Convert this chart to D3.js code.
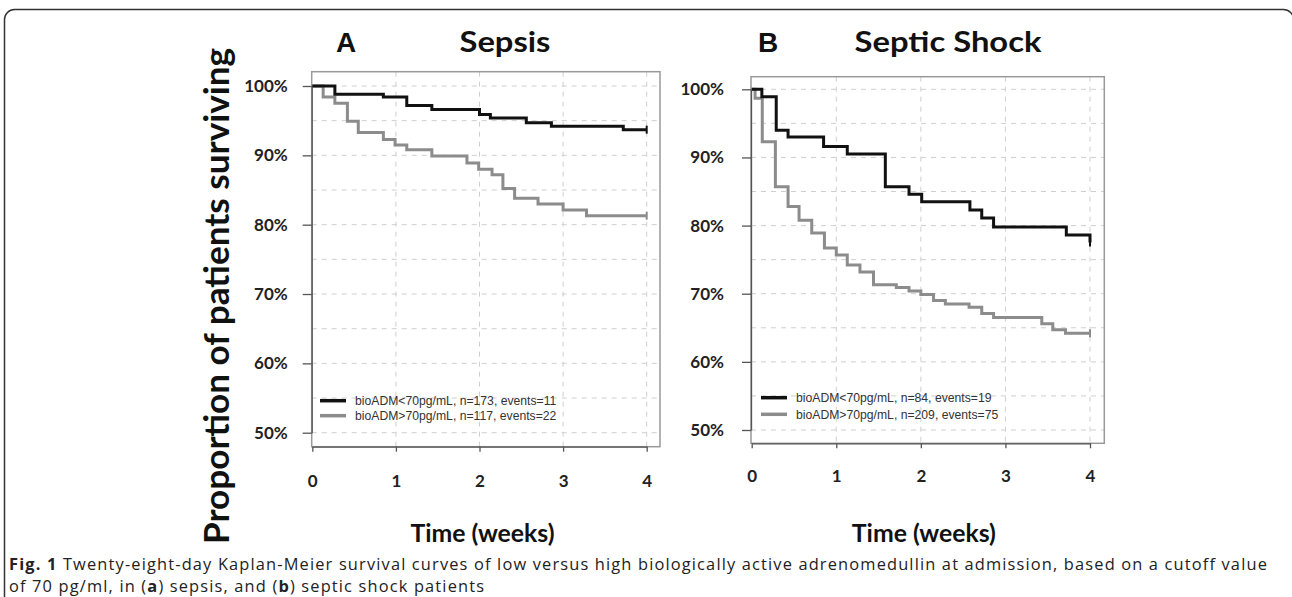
<!DOCTYPE html>
<html>
<head>
<meta charset="utf-8">
<script src="https://cdn.jsdelivr.net/npm/d3@7/dist/d3.min.js"></script>
<style>
body { margin: 0; background: #fff; }
svg { display: block; }
</style>
</head>
<body>
<svg id="fig"></svg>
<script>
var fig_width = 1292;
var fig_height = 597;

// axis ticks
var weekTicks = [0, 1, 2, 3, 4];
var pctTicks = [50, 60, 70, 80, 90, 100];
var gridPct = [50, 55, 60, 65, 70, 75, 80, 85, 90, 95, 100];
var gridWeeks = [1, 2, 3, 4];

// panel A - sepsis (weeks, % surviving)
var sepsisLowT  = [0, 0.27, 0.85, 1.13, 1.43, 2.0, 2.13, 2.56, 2.86, 3.72, 4.0];
var sepsisLowS  = [100, 98.8, 98.4, 97.2, 96.6, 95.9, 95.4, 94.7, 94.2, 93.7, 93.7];
var sepsisHighT = [0, 0.13, 0.27, 0.42, 0.55, 0.85, 0.99, 1.13, 1.43, 1.85, 1.99, 2.15, 2.28, 2.42, 2.70, 3.00, 3.28, 4.0];
var sepsisHighS = [100, 98.4, 97.5, 94.9, 93.3, 92.3, 91.5, 90.8, 89.9, 88.9, 88.0, 87.2, 85.2, 83.8, 83.0, 82.1, 81.3, 81.3];

// panel B - septic shock
var shockLowT  = [0, 0.12, 0.29, 0.43, 0.85, 1.13, 1.58, 1.86, 2.01, 2.58, 2.72, 2.86, 3.72, 4.0];
var shockLowS  = [100, 98.9, 94.0, 93.0, 91.6, 90.5, 85.7, 84.6, 83.5, 82.3, 81.1, 79.8, 78.6, 77.5];
var shockHighT = [0, 0.04, 0.125, 0.28, 0.43, 0.56, 0.71, 0.86, 1.0, 1.13, 1.28, 1.44, 1.71, 1.86, 2.0, 2.15, 2.29, 2.57, 2.72, 2.86, 3.43, 3.56, 3.71, 4.0];
var shockHighS = [100, 98.7, 92.3, 85.7, 82.8, 80.8, 78.9, 76.7, 75.7, 74.2, 73.2, 71.3, 70.9, 70.4, 69.9, 69.0, 68.5, 68.0, 67.1, 66.5, 65.6, 64.7, 64.2, 64.2];

var legendA = ["bioADM<70pg/mL, n=173, events=11", "bioADM>70pg/mL, n=117, events=22"];
var legendB = ["bioADM<70pg/mL, n=84, events=19", "bioADM>70pg/mL, n=209, events=75"];

var lowColour = "#111";
var highColour = "#8c8c8c";

var svg = d3.select("#fig")
	.attr("width", fig_width)
	.attr("height", fig_height);

// outer rounded frame
svg.append("rect")
	.attr("x", 4.5).attr("y", 9.5)
	.attr("width", 1289).attr("height", 640)
	.attr("rx", 10)
	.attr("fill", "none")
	.attr("stroke", "#333")
	.attr("stroke-width", 1.5);

function toPoints(ts, ss){
	return ts.map(function(t, i){ return [t, ss[i]]; });
}

function drawPanel(p){
	var g = svg.append("g");

	var x = d3.scaleLinear().domain([0, 4]).range([p.x0, p.x4]);
	var y = d3.scaleLinear().domain([50, 100]).range([p.y50, p.y100]);

	// dashed grid
	g.append("g").selectAll("line")
		.data(gridPct).enter().append("line")
		.attr("x1", p.boxL).attr("x2", p.boxR)
		.attr("y1", function(d){ return y(d); })
		.attr("y2", function(d){ return y(d); })
		.attr("stroke", "#cfcfcf").attr("stroke-dasharray", "5,5");
	g.append("g").selectAll("line")
		.data(gridWeeks).enter().append("line")
		.attr("x1", function(d){ return x(d); })
		.attr("x2", function(d){ return x(d); })
		.attr("y1", p.boxT).attr("y2", p.boxB)
		.attr("stroke", "#cfcfcf").attr("stroke-dasharray", "5,5");

	// plot box
	g.append("rect")
		.attr("x", p.boxL).attr("y", p.boxT)
		.attr("width", p.boxR - p.boxL).attr("height", p.boxB - p.boxT)
		.attr("fill", "none").attr("stroke", "#999").attr("stroke-width", 1.5);

	// axes
	var yAxis = d3.axisLeft(y).tickValues(pctTicks).tickSize(9).tickSizeOuter(0)
		.tickPadding(p.yPad).tickFormat(function(d){ return d + "%"; });
	var ya = g.append("g").attr("transform", "translate(" + p.boxL + ",0)").call(yAxis);

	var xAxis = d3.axisBottom(x).tickValues(weekTicks).tickSize(5).tickSizeOuter(0)
		.tickPadding(p.xPad).tickFormat(d3.format("d"));
	var xa = g.append("g").attr("transform", "translate(0," + p.boxB + ")").call(xAxis);

	[ya, xa].forEach(function(a){
		a.select(".domain").attr("stroke", "#555").attr("stroke-width", 1.3);
		a.selectAll(".tick line").attr("stroke", "#555").attr("stroke-width", 1.3);
		a.selectAll(".tick text")
			.attr("fill", "#222")
			.style("font-family", "Lato, 'Open Sans', sans-serif")
			.style("font-weight", 700)
			.style("font-size", "17px");
	});

	// survival curves
	var line = d3.line()
		.x(function(d){ return x(d[0]); })
		.y(function(d){ return y(d[1]); })
		.curve(d3.curveStepAfter);

	var curves = [
		{pts: toPoints(p.highT, p.highS), colour: highColour},
		{pts: toPoints(p.lowT, p.lowS), colour: lowColour}
	];
	curves.forEach(function(c){
		g.append("path")
			.attr("d", line(c.pts))
			.attr("fill", "none")
			.attr("stroke", c.colour)
			.attr("stroke-width", 3);
		// censor mark at end
		var last = c.pts[c.pts.length - 1];
		g.append("line")
			.attr("x1", x(last[0])).attr("x2", x(last[0]))
			.attr("y1", y(last[1]) - 4).attr("y2", y(last[1]) + 4)
			.attr("stroke", c.colour).attr("stroke-width", 2);
	});

	// legend
	var lg = g.append("g").selectAll("g")
		.data(p.legend).enter().append("g")
		.attr("transform", function(d, i){ return "translate(0," + p.legY[i] + ")"; });
	lg.append("line")
		.attr("x1", p.legX).attr("x2", p.legX + 26)
		.attr("stroke", function(d, i){ return i == 0 ? lowColour : highColour; })
		.attr("stroke-width", 3.5);
	lg.append("text")
		.attr("x", p.legX + 35).attr("dy", "0.35em")
		.attr("fill", "#333")
		.style("font-family", "'Liberation Sans', Arial, sans-serif")
		.style("font-size", "12.2px")
		.text(function(d){ return d; });

	// panel letter and title
	g.append("text")
		.attr("x", p.letterX).attr("y", 52)
		.attr("text-anchor", "middle")
		.attr("fill", "#111")
		.style("font-family", "'Liberation Sans', Arial, sans-serif")
		.style("font-weight", 700).style("font-size", "28px")
		.text(p.letter);
	g.append("text")
		.attr("x", p.titleX).attr("y", 52)
		.attr("text-anchor", "middle")
		.attr("fill", "#111")
		.attr("textLength", p.titleW).attr("lengthAdjust", "spacingAndGlyphs")
		.style("font-family", "Lato, 'Open Sans', sans-serif")
		.style("font-weight", 700).style("font-size", "28px")
		.text(p.title);

	// x axis title
	g.append("text")
		.attr("x", x(2) + 3).attr("y", 542)
		.attr("text-anchor", "middle")
		.attr("fill", "#111")
		.attr("textLength", 144).attr("lengthAdjust", "spacingAndGlyphs")
		.style("font-family", "Lato, 'Open Sans', sans-serif")
		.style("font-weight", 700).style("font-size", "24px")
		.text("Time (weeks)");
}

drawPanel({
	boxL: 311.7, boxR: 660, boxT: 71.7, boxB: 446.7,
	x0: 312.3, x4: 646.7, y50: 432.7, y100: 86,
	yPad: 15, xPad: 23,
	lowT: sepsisLowT, lowS: sepsisLowS, highT: sepsisHighT, highS: sepsisHighS,
	legend: legendA, legX: 320, legY: [400.7, 415.7],
	letter: "A", letterX: 346, title: "Sepsis", titleX: 505, titleW: 91
});

drawPanel({
	boxL: 751, boxR: 1104.3, boxT: 76.7, boxB: 443.3,
	x0: 751.7, x4: 1090, y50: 430, y100: 89.3,
	yPad: 18, xPad: 22,
	lowT: shockLowT, lowS: shockLowS, highT: shockHighT, highS: shockHighS,
	legend: legendB, legX: 761, legY: [397.7, 414.3],
	letter: "B", letterX: 768, title: "Septic Shock", titleX: 948, titleW: 187
});

// shared y axis title
svg.append("text")
	.attr("transform", "translate(229,296) rotate(-90)")
	.attr("text-anchor", "middle")
	.attr("fill", "#111")
	.attr("textLength", 496).attr("lengthAdjust", "spacingAndGlyphs")
	.style("font-family", "Lato, 'Open Sans', sans-serif")
	.style("font-weight", 700).style("font-size", "34px")
	.text("Proportion of patients surviving");

// caption
var caption = svg.append("g")
	.style("font-family", "'Open Sans', 'Noto Sans', sans-serif")
	.style("font-size", "16.4px")
	.attr("fill", "#222");

var line1 = caption.append("text").attr("x", 9).attr("y", 569.5);
line1.append("tspan").style("font-weight", 700).text("Fig. 1");
line1.append("tspan").text(" Twenty-eight-day Kaplan-Meier survival curves of low versus high biologically active adrenomedullin at admission, based on a cutoff value");

var line2 = caption.append("text").attr("x", 9).attr("y", 591.8);
line2.append("tspan").text("of 70 pg/ml, in (");
line2.append("tspan").style("font-weight", 700).text("a");
line2.append("tspan").text(") sepsis, and (");
line2.append("tspan").style("font-weight", 700).text("b");
line2.append("tspan").text(") septic shock patients");

// stretch caption tracking so the first line spans the frame like the original
var measured = line1.node().getComputedTextLength();
var nChars = line1.text().length;
caption.style("letter-spacing", Math.max(0, (1259 - measured) / nChars) + "px");
</script>
</body>
</html>
